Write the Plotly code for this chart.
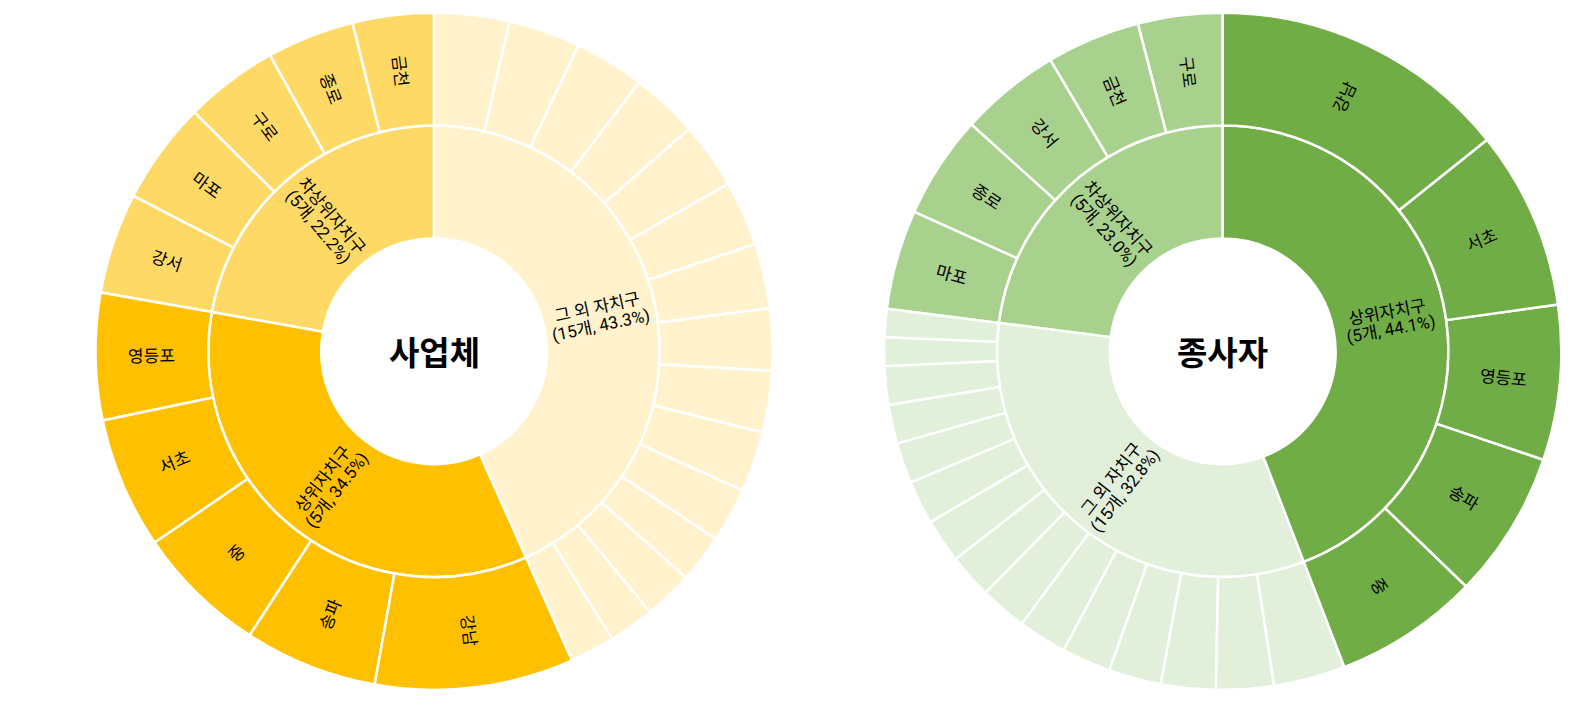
import math
import plotly.graph_objects as go

# ---------------- data ----------------
# 사업체 (business establishments) - listed clockwise from 12 o'clock
biz_title = "사업체"
biz_groups = ["그 외 자치구", "상위자치구", "차상위자치구"]
biz_group_text = [["그 외 자치구", "(15개, 43.3%)"], ["상위자치구", "(5개, 34.5%)"], ["차상위자치구", "(5개, 22.2%)"]]
biz_top_names = ["강남", "송파", "중", "서초", "영등포"]
biz_top_vals = [9.50, 6.36, 6.28, 6.28, 6.06]
biz_second_names = ["강서", "마포", "구로", "종로", "금천"]
biz_second_vals = [4.81, 4.89, 4.47, 4.18, 3.88]
biz_other_vals = [3.58, 3.43, 3.36, 3.22, 3.17, 3.11, 3.10, 2.95, 2.93, 2.90, 2.61, 2.31, 2.33, 2.19, 2.14]
biz_colors = {"상위자치구": "#FFC000", "차상위자치구": "#FFD966", "그 외 자치구": "#FFF2CC"}

# 종사자 (workers) - listed clockwise from 12 o'clock
emp_title = "종사자"
emp_groups = ["상위자치구", "그 외 자치구", "차상위자치구"]
emp_group_text = [["상위자치구", "(5개, 44.1%)"], ["그 외 자치구", "(15개, 32.8%)"], ["차상위자치구", "(5개, 23.0%)"]]
emp_top_names = ["강남", "서초", "영등포", "송파", "중"]
emp_top_vals = [14.25, 8.53, 7.39, 7.03, 6.92]
emp_second_names = ["마포", "종로", "강서", "금천", "구로"]
emp_second_vals = [4.75, 4.92, 4.81, 4.47, 4.03]
emp_other_vals = [3.42, 2.75, 2.61, 2.50, 2.35, 2.32, 2.25, 2.12, 2.10, 2.08, 1.94, 1.86, 1.83, 1.36, 1.35]
emp_colors = {"상위자치구": "#70AD47", "차상위자치구": "#A9D18E", "그 외 자치구": "#E2EFDA"}

FONT = "Roboto, 'Noto Sans CJK KR', sans-serif"
TITLE_FONT = "'Noto Sans CJK KR', Roboto, sans-serif"
LABEL_SIZE = 17
LINE_GAP = 18
TITLE_SIZE = 33
W, H = 1590, 709


def children_of(top_names, top_vals, second_names, second_vals, other_vals):
    return {
        "상위자치구": (top_names, top_vals, True),
        "차상위자치구": (second_names, second_vals, True),
        "그 외 자치구": (["그 외 %d" % (i + 1) for i in range(len(other_vals))], other_vals, False),
    }


def build(title, groups, children, colors):
    """Point lists for the sunburst; plotly draws sunburst counterclockwise, so reverse order."""
    ids, labels, parents, values, cols = ["root"], [title], [""], [0], ["#FFFFFF"]
    rg = groups[::-1]
    for g in rg:
        ids.append(g); labels.append(g); parents.append("root"); values.append(0); cols.append(colors[g])
    for g in rg:
        names, vals, _ = children[g]
        for n, v in list(zip(names, vals))[::-1]:
            ids.append(g + "/" + n); labels.append(n); parents.append(g); values.append(v)
            cols.append(colors[g])
    return ids, labels, parents, values, cols


def radial_angle(theta):
    rot = theta - 90.0
    while rot > 180:
        rot -= 360
    while rot <= -180:
        rot += 360
    if rot > 90:
        rot -= 180
    elif rot < -90:
        rot += 180
    return rot


charts = [
    (biz_title, biz_groups, biz_group_text,
     children_of(biz_top_names, biz_top_vals, biz_second_names, biz_second_vals, biz_other_vals),
     biz_colors, [0.033, 0.513]),
    (emp_title, emp_groups, emp_group_text,
     children_of(emp_top_names, emp_top_vals, emp_second_names, emp_second_vals, emp_other_vals),
     emp_colors, [0.552, 0.986]),
]
ydom = [0.027, 0.982]

fig = go.Figure()
for title, groups, group_text, children, colors, dom in charts:
    ids, labels, parents, values, cols = build(title, groups, children, colors)
    fig.add_trace(go.Sunburst(
        ids=ids, labels=labels, parents=parents, values=values,
        branchvalues="remainder", sort=False,
        textinfo="none",
        marker=dict(colors=cols, line=dict(color="white", width=2.5)),
        leaf=dict(opacity=1),
        domain=dict(x=dom, y=ydom),
        rotation=90,
        hoverinfo="label+value",
    ))

    # geometry of this sunburst (same as plotly's own layout of the domain)
    cx = (dom[0] + dom[1]) / 2
    cy = (ydom[0] + ydom[1]) / 2
    R = min((dom[1] - dom[0]) * W, (ydom[1] - ydom[0]) * H) / 2
    total = sum(sum(children[g][1]) for g in groups)

    def place(theta, r, lines):
        t = math.radians(theta)
        px = r * math.sin(t)          # screen px offset, x right
        py = -r * math.cos(t)         # screen px offset, y down
        a = radial_angle(theta)
        ar = math.radians(a)
        dx, dy = -math.sin(ar), math.cos(ar)   # "down" direction of the rotated text
        n = len(lines)
        for i, line in enumerate(lines):
            off = (i - (n - 1) / 2) * LINE_GAP
            sx, sy = px + off * dx, py + off * dy
            fig.add_annotation(
                x=cx + sx / W, y=cy - sy / H,
                xref="paper", yref="paper", text=line, showarrow=False,
                textangle=a,
                font=dict(family=FONT, size=LABEL_SIZE, color="black"),
                xanchor="center", yanchor="middle",
            )

    cum = 0.0
    for g, gt in zip(groups, group_text):
        names, vals, show = children[g]
        gsum = sum(vals)
        place(360.0 * (cum + gsum / 2) / total, R / 2, gt)
        c2 = cum
        for n, v in zip(names, vals):
            if show:
                place(360.0 * (c2 + v / 2) / total, 5 * R / 6, [n])
            c2 += v
        cum += gsum

    fig.add_annotation(
        x=cx, y=cy, xref="paper", yref="paper",
        text="<b>" + title + "</b>", showarrow=False,
        font=dict(family=TITLE_FONT, size=TITLE_SIZE, color="black"),
        xanchor="center", yanchor="middle",
    )

fig.update_layout(
    width=W, height=H,
    margin=dict(l=0, r=0, t=0, b=0),
    paper_bgcolor="white",
    font=dict(family=FONT, color="black"),
    showlegend=False,
)

fig.write_html("out.html")
